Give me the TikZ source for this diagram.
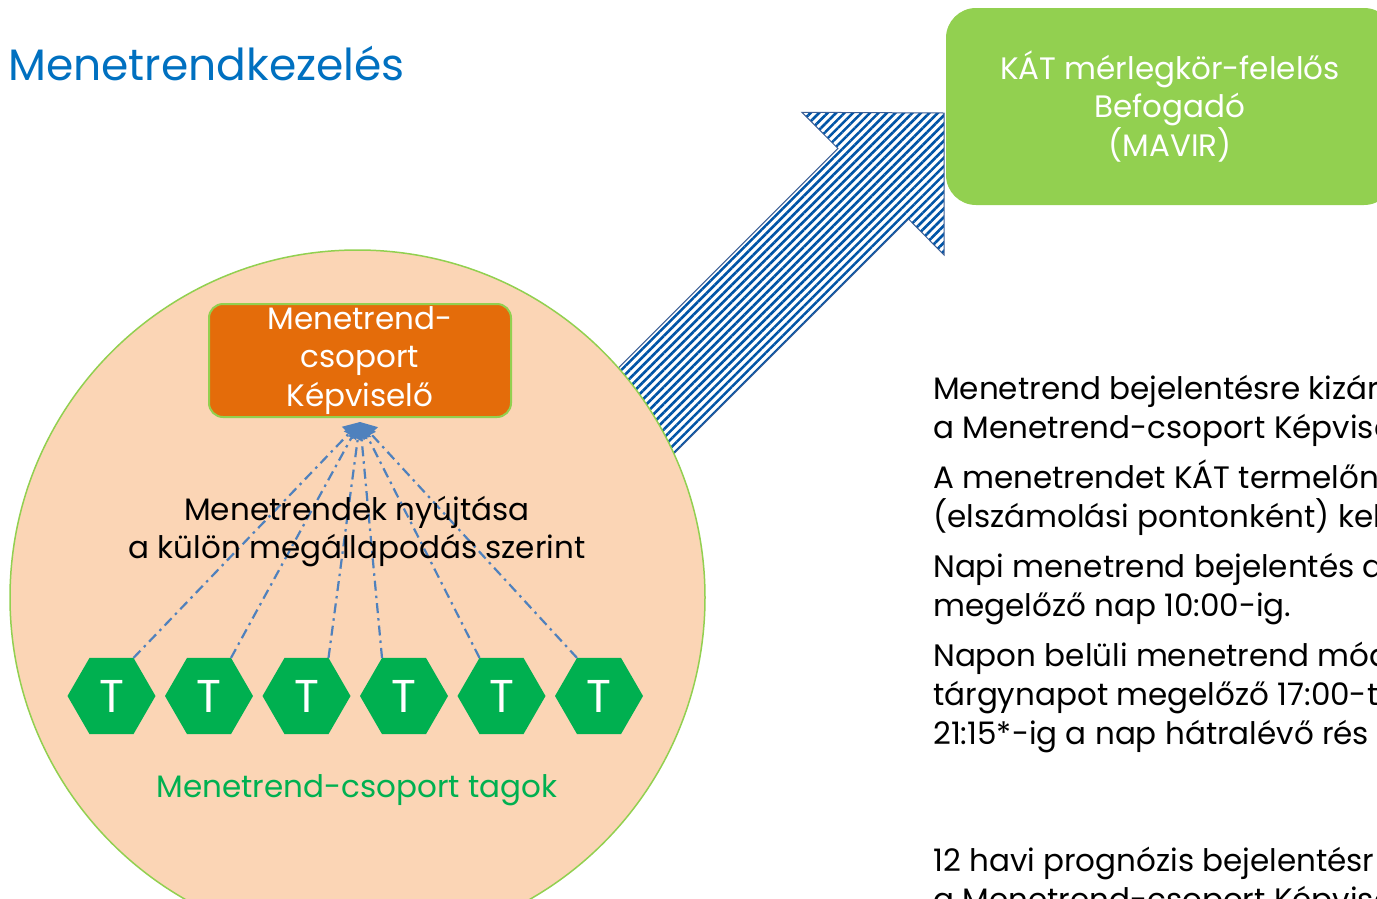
\documentclass[tikz,border=0pt]{standalone}
\usepackage{fontspec}
\setmainfont{Poppins}
\usetikzlibrary{arrows.meta,positioning,shapes.geometric,patterns.meta}
\definecolor{titleblue}{RGB}{0,112,192}
\definecolor{mavirgreen}{RGB}{146,208,80}
\definecolor{grouppeach}{RGB}{251,213,181}
\definecolor{reporange}{RGB}{228,108,10}
\definecolor{memgreen}{RGB}{0,176,80}
\definecolor{linkblue}{RGB}{79,129,189}
\definecolor{stripeblue}{RGB}{0,84,166}
\definecolor{edgeblue}{RGB}{60,95,150}

\begin{document}
\begin{tikzpicture}[x=1pt, y=-1pt, node distance=9.5pt,
  txt/.style={font=\fontsize{31}{38.7}\selectfont, inner sep=0pt},
  member/.style={regular polygon, regular polygon sides=6, minimum size=88pt, inner sep=0pt, outer sep=0pt, fill=memgreen, text=white, font=\fontsize{46}{46}\selectfont},
  feed/.style={draw=linkblue, line width=2.2pt, dash pattern=on 10pt off 5pt on 2.5pt off 5pt, -{Triangle[length=16pt,width=19pt]}},
  note/.style={txt, align=left, anchor=base west}]
 \useasboundingbox (0,0) rectangle (1377,898);
 \clip (0,0) rectangle (1377,898);

 \coordinate (tailL) at (583.4,402.9);
 \coordinate (neckL) at (837.9,148.4);
 \coordinate (barbL) at (801.9,112.3);
 \coordinate (tip) at (944,113);
 \coordinate (barbR) at (944,255);
 \coordinate (neckR) at (908.6,219.1);
 \coordinate (tailR) at (654.1,473.6);
 \path[fill=white] (tailL) -- (neckL) -- (barbL) -- (tip) -- (barbR) -- (neckR) -- (tailR) -- cycle;
 \draw[draw=edgeblue, line width=1pt, pattern={Lines[angle=45,distance=6pt,line width=2.6pt]}, pattern color=stripeblue] (tailL) -- (neckL) -- (barbL) -- (tip) -- (barbR) -- (neckR) -- (tailR) -- cycle;

 \node[circle, draw=mavirgreen, line width=1.5pt, fill=grouppeach, minimum size=695pt, inner sep=0pt] (grp) at (357.5,597.5) {};

 \node[txt, anchor=base west, text=titleblue, font=\fontsize{44}{50}\selectfont] (title) at (8,80) {Menetrendkezelés};

 \node[txt, fill=mavirgreen, rounded corners=30pt, minimum width=448pt, minimum height=197pt, text=white, align=center] (mavir) at (1170,106.5) {KÁT mérlegkör-felelős\\Befogadó\\(MAVIR)};

 \node[txt, draw=mavirgreen, line width=2pt, fill=reporange, rounded corners=14pt, minimum width=302pt, minimum height=113pt, text=white, align=center] (rep) at (360,360.5) {Menetrend-\\csoport\\Képviselő};

 \node[member] (t1) at (111.5,696) {T};
 \node[member, right=of t1] (t2) {T};
 \node[member, right=of t2] (t3) {T};
 \node[member, right=of t3] (t4) {T};
 \node[member, right=of t4] (t5) {T};
 \node[member, right=of t5] (t6) {T};

 \draw[feed] (t1.corner 1) -- ([yshift=-4pt]rep.south);
 \draw[feed] (t2.corner 1) -- ([yshift=-4pt]rep.south);
 \draw[feed] (t3.corner 1) -- ([yshift=-4pt]rep.south);
 \draw[feed] (t4.corner 2) -- ([yshift=-4pt]rep.south);
 \draw[feed] (t5.corner 2) -- ([yshift=-4pt]rep.south);
 \draw[feed] (t6.corner 2) -- ([yshift=-4pt]rep.south);

 \node[txt, align=center] (offer) at (357,531.5) {Menetrendek nyújtása\\a külön megállapodás szerint};
 \node[txt, text=memgreen] (members) at (357,790) {Menetrend-csoport tagok};

 \node[note] (p1) at (933,438) {Menetrend bejelentésre kizár\\a Menetrend-csoport Képvise};
 \node[note] (p2) at (933,527) {A menetrendet KÁT termelőn\\(elszámolási pontonként) kell};
 \node[note] (p3) at (933,616) {Napi menetrend bejelentés a\\megelőző nap 10:00-ig.};
 \node[note] (p4) at (933,744) {Napon belüli menetrend mód\\tárgynapot megelőző 17:00-t\\21:15*-ig a nap hátralévő rés};
 \node[note] (p5) at (933,910) {12 havi prognózis bejelentésr\\a Menetrend-csoport Képvise};
\end{tikzpicture}
\end{document}
